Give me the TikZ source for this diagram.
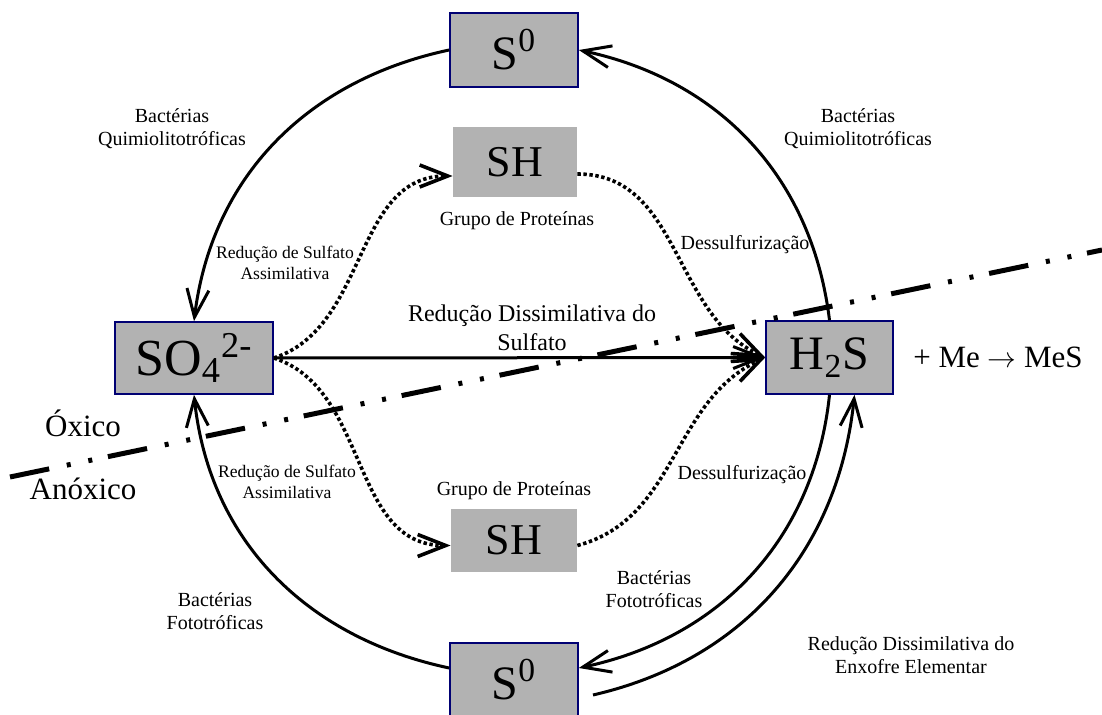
\documentclass[tikz,border=0pt]{standalone}
\usepackage{fontspec}
\setmainfont{Liberation Serif}
\usetikzlibrary{arrows.meta}
\usetikzlibrary{calc}

\definecolor{boxgray}{gray}{0.70}
\definecolor{boxblue}{rgb}{0,0,0.45}

\tikzset{
  species/.style={draw=boxblue,line width=0.8pt,fill=boxgray,
    minimum width=64pt,minimum height=37pt,inner sep=0pt,
    font=\fontsize{24}{26}\selectfont},
  thiol/.style={fill=boxgray,minimum width=62pt,minimum height=35pt,
    inner sep=0pt,font=\fontsize{22}{24}\selectfont},
  note/.style={align=center,inner sep=0pt,font=\fontsize{10}{11.5}\selectfont},
  smallnote/.style={note,font=\fontsize{8.8}{10.5}\selectfont},
  flux/.style={line width=1.5pt,-{Straight Barb[length=14pt,width=11pt]}},
  assim/.style={flux,line width=1.8pt,dash pattern=on 1.7pt off 1.3pt},
  interface/.style={line width=2.5pt,
    dash pattern=on 20pt off 9pt on 2pt off 9pt on 2pt off 8pt}
}

\begin{document}
\begin{tikzpicture}[x=0.5pt,y=0.5pt]
  \useasboundingbox (0,0) rectangle (1102,-715);

  % sulphur species
  \node[species] (S0top) at (514,-50) {S\textsuperscript{0}};
  \node[species,minimum width=79pt,minimum height=36pt,
    font=\fontsize{26}{28}\selectfont]
    (SO4) at (194,-358) {SO\textsubscript{4}\textsuperscript{2-}};
  \node[species,minimum width=63.5pt,minimum height=36.5pt]
    (H2S) at (829.5,-357.5) {H\textsubscript{2}S};
  \node[species] (S0bot) at (514,-680) {S\textsuperscript{0}};
  \node[thiol] (SHtop) at (515,-162) {SH};
  \node[thiol,minimum width=63pt,minimum height=31.5pt]
    (SHbot) at (514,-540.5) {SH};

  % labels
  \node[note] (quimL) at (172,-129) {Bactérias\\Quimiolitotróficas};
  \node[note] (quimR) at (858,-129) {Bactérias\\Quimiolitotróficas};
  \node[smallnote] (assimT) at (285,-263) {Redução de Sulfato\\Assimilativa};
  \node[smallnote] (assimB) at (287,-482) {Redução de Sulfato\\Assimilativa};
  \node[note] (protT) at (517,-221) {Grupo de Proteínas};
  \node[note] (protB) at (514,-491) {Grupo de Proteínas};
  \node[note] (dessT) at (745,-245) {Dessulfurização};
  \node[note] (dessB) at (742,-475) {Dessulfurização};
  \node[note,font=\fontsize{12}{14.5}\selectfont]
    (dissim) at (532,-328) {Redução Dissimilativa do\\Sulfato};
  \node[note] (fotoL) at (215,-611) {Bactérias\\Fototróficas};
  \node[note] (fotoR) at (654,-589) {Bactérias\\Fototróficas};
  \node[note] (elem) at (911,-655) {Redução Dissimilativa do\\Enxofre Elementar};
  \node[font=\fontsize{15.5}{17}\selectfont]
    (metal) at (998,-357) {+ Me $\rightarrow$ MeS};
  \node[font=\fontsize{15.5}{17}\selectfont,anchor=base]
    (oxic) at (83,-437) {Óxico};
  \node[font=\fontsize{15.5}{17}\selectfont,anchor=base]
    (anoxic) at (83,-500) {Anóxico};

  % outer cycle
  \draw[flux]
    (S0top.west)
    to[out=192,in=83]
    (SO4.north);
  \draw[flux]
    (H2S.north)
    to[out=97,in=-12]
    (S0top.east);
  \draw[flux]
    ($(S0bot.west)+(0,12)$)
    to[out=168,in=276]
    (SO4.south);
  \draw[flux]
    (H2S.south)
    to[out=-96,in=12]
    ($(S0bot.east)+(0,12)$);
  \coordinate (elemstart) at (593,-695);
  \draw[flux]
    (elemstart)
    to[out=13,in=264]
    ($(H2S.south)+(25,0)$);
  \draw[flux]
    (SO4.east)
    --
    (H2S.west);

  % assimilation and desulfurization
  \draw[assim]
    (SO4.east)
    to[out=18,in=180]
    ($(SHtop.west)+(0,-14)$);
  \draw[assim]
    ($(SHtop.east)+(0,-12)$)
    to[out=0,in=155]
    (H2S.west);
  \draw[assim]
    (SO4.east)
    to[out=-18,in=180]
    ($(SHbot.west)+(0,-5)$);
  \draw[assim]
    ($(SHbot.east)+(0,-5)$)
    to[out=15,in=205]
    (H2S.west);

  % oxic / anoxic boundary
  \coordinate (oxwest) at (10,-477);
  \coordinate (oxeast) at (1102,-250);
  \draw[interface]
    (oxwest)
    --
    (oxeast);
\end{tikzpicture}
\end{document}
